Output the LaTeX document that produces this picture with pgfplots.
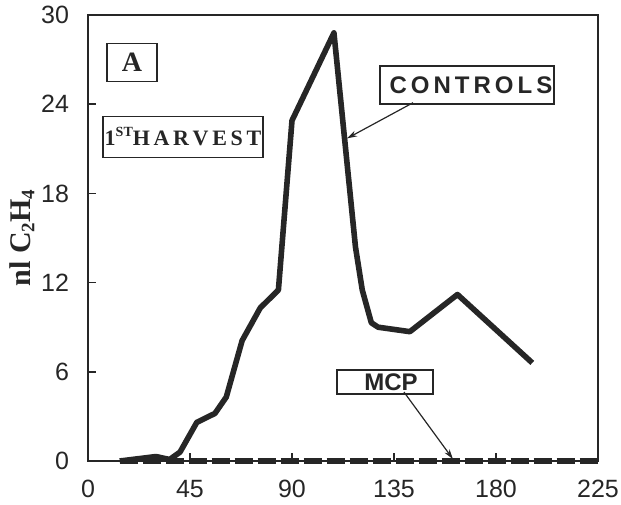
\documentclass[border=0pt]{standalone}
\usepackage{fontspec}
\setmainfont{Liberation Sans}
\newfontfamily\serif{Liberation Serif}
\usepackage{pgfplots}
\pgfplotsset{compat=1.18}
\usetikzlibrary{arrows.meta}

\definecolor{ink}{HTML}{262626}

\begin{document}
\begin{tikzpicture}
\begin{axis}[
  scale only axis,
  width=255pt, height=223pt,
  xmin=0, xmax=225, ymin=0, ymax=30,
  xtick={0,45,90,135,180,225},
  ytick={0,6,12,18,24,30},
  tick align=inside,
  tick pos=left,
  major tick length=4pt,
  axis line style={line width=1pt, draw=ink},
  tick style={line width=0.8pt, draw=ink},
  /pgf/number format/assume math mode=true,
  tick label style={font=\fontsize{12.5}{12.5}\selectfont, text=ink},
  yticklabel style={xshift=-6pt},
  xticklabel style={yshift=-6pt},
  ylabel={\serif\bfseries\fontsize{15}{15}\selectfont nl C\raisebox{-0.3ex}{\fontsize{9.5}{9.5}\selectfont 2}H\raisebox{-0.3ex}{\fontsize{9.5}{9.5}\selectfont 4}},
  ylabel style={at={(rel axis cs:0,0.5)}, anchor=center, yshift=33pt, text=ink},
  clip=false,
]

% MCP
\addplot[draw=ink, line width=2.6pt, dash pattern=on 9pt off 2.5pt] coordinates {
  (14,0) (30,0) (45,0) (60,0) (75,0) (90,0) (105,0) (120,0)
  (135,0) (150,0) (165,0) (180,0) (195,0) (210,0) (225,0)
};

% Controls
\addplot[draw=ink, line width=2.8pt, line join=round] coordinates {
  (14,0) (30,0.3) (36,0.1) (40.6,0.6) (48,2.6) (56,3.2) (61,4.3)
  (68,8.1) (76,10.3) (84,11.5) (90,22.9) (108.5,28.8) (118,14.4)
  (121,11.5) (125,9.3) (128,9.0) (142,8.7) (163,11.2) (196,6.6)
};

\node[draw=ink, line width=0.9pt, fill=white, minimum width=25pt, minimum height=19pt, inner sep=1pt,
  font=\serif\bfseries\fontsize{14}{14}\selectfont, text=ink] at (axis cs:19.4,26.8) {A};
\node[draw=ink, line width=0.9pt, fill=white, minimum width=77pt, minimum height=20.5pt, inner sep=1pt,
  font=\serif\bfseries\fontsize{11}{11}\selectfont, text=ink] at (axis cs:41.9,21.8)
  {1\raisebox{0.9ex}{\fontsize{7}{7}\selectfont ST}H\,A\,R\,V\,E\,S\,T};
\node[draw=ink, line width=0.9pt, fill=white, minimum width=85pt, minimum height=19pt, inner sep=1pt,
  font=\bfseries\fontsize{12}{12}\selectfont, text=ink] at (axis cs:167.2,25.3)
  {\hspace{4pt}C\,O\,N\,T\,R\,O\,L\,S};
\node[draw=ink, line width=0.9pt, fill=white, minimum width=48pt, minimum height=12pt, inner sep=0.5pt,
  font=\bfseries\fontsize{12}{12}\selectfont, text=ink] at (axis cs:131,5.3) {\hspace{6pt}MCP};

\draw[ink, line width=0.6pt, -{Stealth[length=5pt,width=3pt]}] (axis cs:143.4,24.1) -- (axis cs:114.3,21.7);
\draw[ink, line width=0.6pt, -{Stealth[length=5pt,width=3pt]}] (axis cs:139.4,4.64) -- (axis cs:161,0.13);

\coordinate (bl) at (rel axis cs:0,0);
\coordinate (tr) at (rel axis cs:1,1);
\end{axis}
\pgfresetboundingbox
\path[use as bounding box] ([xshift=-44pt,yshift=-21.5pt]bl) rectangle ([xshift=11.5pt,yshift=7.5pt]tr);
\end{tikzpicture}
\end{document}
